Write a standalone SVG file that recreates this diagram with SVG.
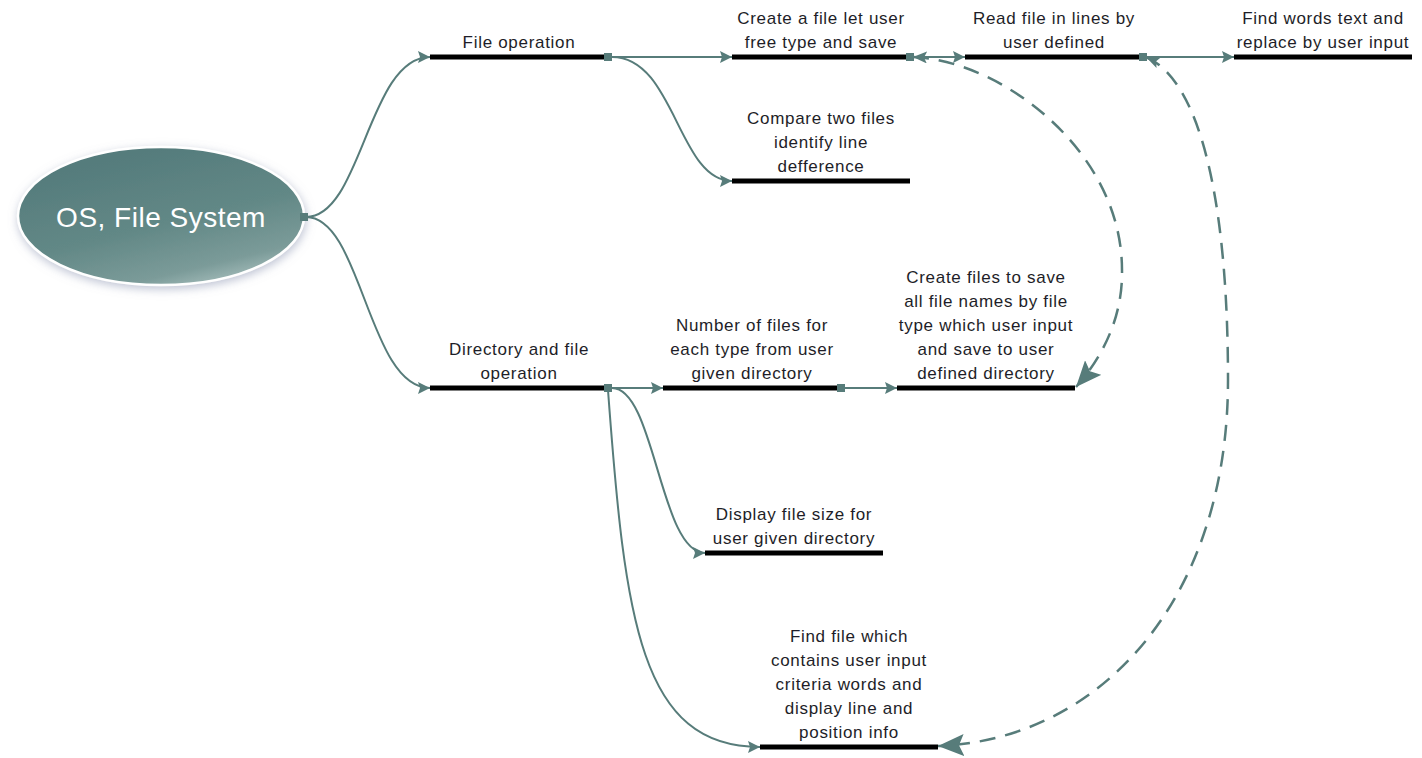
<svg xmlns="http://www.w3.org/2000/svg" width="1422" height="758" viewBox="0 0 1422 758">
<defs>
<linearGradient id="rootg" x1="0.25" y1="0" x2="0.75" y2="1">
<stop offset="0" stop-color="#52797a"/>
<stop offset="0.55" stop-color="#628886"/>
<stop offset="0.85" stop-color="#7b9b99"/>
<stop offset="1" stop-color="#a9c0be"/>
</linearGradient>
<filter id="glow" x="-20%" y="-30%" width="140%" height="160%">
<feGaussianBlur in="SourceAlpha" stdDeviation="5"/>
<feOffset dx="1" dy="3" result="b"/>
<feFlood flood-color="#8a93b0" flood-opacity="0.55"/>
<feComposite in2="b" operator="in"/>
<feMerge><feMergeNode/><feMergeNode in="SourceGraphic"/></feMerge>
</filter>
<marker id="arr" markerWidth="12" markerHeight="12" refX="12" refY="6" orient="auto" markerUnits="userSpaceOnUse">
<path d="M0,0 L12,6 L0,12 L2,6 z" fill="#577c7a"/>
</marker>
<marker id="sarr" markerWidth="14" markerHeight="12" refX="14" refY="6" orient="auto-start-reverse" markerUnits="userSpaceOnUse">
<path d="M0,0 L14,6 L0,12 L3,6 z" fill="#577c7a"/>
</marker>
<marker id="big" markerWidth="26" markerHeight="22" refX="26" refY="11" orient="auto" markerUnits="userSpaceOnUse">
<path d="M0,0 L26,11 L0,22 L5,11 z" fill="#577c7a"/>
</marker>
<style>
.t{font-family:"Liberation Sans",Arial,sans-serif;font-size:17px;letter-spacing:0.7px;fill:#1e1e28;text-anchor:middle}
.u{stroke:#000;stroke-width:5}
.c{fill:none;stroke:#577c7a;stroke-width:2}
.d{fill:none;stroke:#577c7a;stroke-width:2.5;stroke-dasharray:16 10}
.sq{fill:#577c7a}
</style>
</defs>
<rect width="1422" height="758" fill="#fff"/>

<g id="root">
<ellipse cx="161" cy="216" rx="143" ry="69" fill="url(#rootg)" stroke="#ffffff" stroke-width="2.5" filter="url(#glow)"/>
<text x="161" y="227" style="font-family:'Liberation Sans',Arial,sans-serif;font-size:28px;letter-spacing:0.5px;fill:#fff;text-anchor:middle">OS, File System</text>
</g>

<g id="file-operation">
<text class="t" x="519" y="48">File operation</text>
<line class="u" x1="430" y1="57" x2="608" y2="57"/>
</g>

<g id="create-file">
<text class="t" x="821" y="24">Create a file let user</text>
<text class="t" x="821" y="48">free type and save</text>
<line class="u" x1="732" y1="57" x2="910" y2="57"/>
</g>

<g id="read-file">
<text class="t" x="1054" y="24">Read file in lines by</text>
<text class="t" x="1054" y="48">user defined</text>
<line class="u" x1="965" y1="57" x2="1143" y2="57"/>
</g>

<g id="find-words">
<text class="t" x="1323" y="24">Find words text and</text>
<text class="t" x="1323" y="48">replace by user input</text>
<line class="u" x1="1234" y1="57" x2="1412" y2="57"/>
</g>

<g id="compare">
<text class="t" x="821" y="124">Compare two files</text>
<text class="t" x="821" y="148">identify line</text>
<text class="t" x="821" y="172">defference</text>
<line class="u" x1="732" y1="181" x2="910" y2="181"/>
</g>

<g id="directory">
<text class="t" x="519" y="355">Directory and file</text>
<text class="t" x="519" y="379">operation</text>
<line class="u" x1="430" y1="388" x2="608" y2="388"/>
</g>

<g id="number-files">
<text class="t" x="752" y="331">Number of files for</text>
<text class="t" x="752" y="355">each type from user</text>
<text class="t" x="752" y="379">given directory</text>
<line class="u" x1="663" y1="388" x2="841" y2="388"/>
</g>

<g id="create-files">
<text class="t" x="986" y="283">Create files to save</text>
<text class="t" x="986" y="307">all file names by file</text>
<text class="t" x="986" y="331">type which user input</text>
<text class="t" x="986" y="355">and save to user</text>
<text class="t" x="986" y="379">defined directory</text>
<line class="u" x1="897" y1="388" x2="1075" y2="388"/>
</g>

<g id="display-size">
<text class="t" x="794" y="520">Display file size for</text>
<text class="t" x="794" y="544">user given directory</text>
<line class="u" x1="705" y1="553" x2="883" y2="553"/>
</g>

<g id="find-file">
<text class="t" x="849" y="642">Find file which</text>
<text class="t" x="849" y="666">contains user input</text>
<text class="t" x="849" y="690">criteria words and</text>
<text class="t" x="849" y="714">display line and</text>
<text class="t" x="849" y="738">position info</text>
<line class="u" x1="760" y1="747" x2="938" y2="747"/>
</g>

<g id="connectors">
<path class="c" d="M306,217 C362,217 368,57 430,57" marker-end="url(#arr)"/>
<path class="c" d="M306,217 C362,217 368,388 430,388" marker-end="url(#arr)"/>
<path class="c" d="M612,57 L732,57" marker-end="url(#arr)"/>
<path class="c" d="M612,57 C675,57 678,181 732,181" marker-end="url(#arr)"/>
<path class="c" d="M912,57 L965,57" marker-end="url(#arr)"/>
<path class="c" d="M1145,57 L1234,57" marker-end="url(#arr)"/>
<path class="c" d="M612,388 L663,388" marker-end="url(#arr)"/>
<path class="c" d="M845,388 L897,388" marker-end="url(#arr)"/>
<path class="c" d="M612,388 C655,388 660,553 705,553" marker-end="url(#arr)"/>
<path class="c" d="M608,390 C625,620 640,747 760,747" marker-end="url(#arr)"/>
<path class="d" d="M913,57 C1000,60 1122,150 1122,270 C1123,320 1100,360 1076,387" marker-start="url(#sarr)" marker-end="url(#big)"/>
<path class="d" d="M1146,57 C1200,80 1228,200 1228,380 C1228,600 1100,740 938,746" marker-start="url(#sarr)" marker-end="url(#big)"/>
<rect class="sq" x="300" y="213" width="8" height="8"/>
<rect class="sq" x="604" y="53" width="8" height="8"/>
<rect class="sq" x="906" y="53" width="8" height="8"/>
<rect class="sq" x="1139" y="53" width="8" height="8"/>
<rect class="sq" x="604" y="384" width="8" height="8"/>
<rect class="sq" x="837" y="384" width="8" height="8"/>
</g>
</svg>
